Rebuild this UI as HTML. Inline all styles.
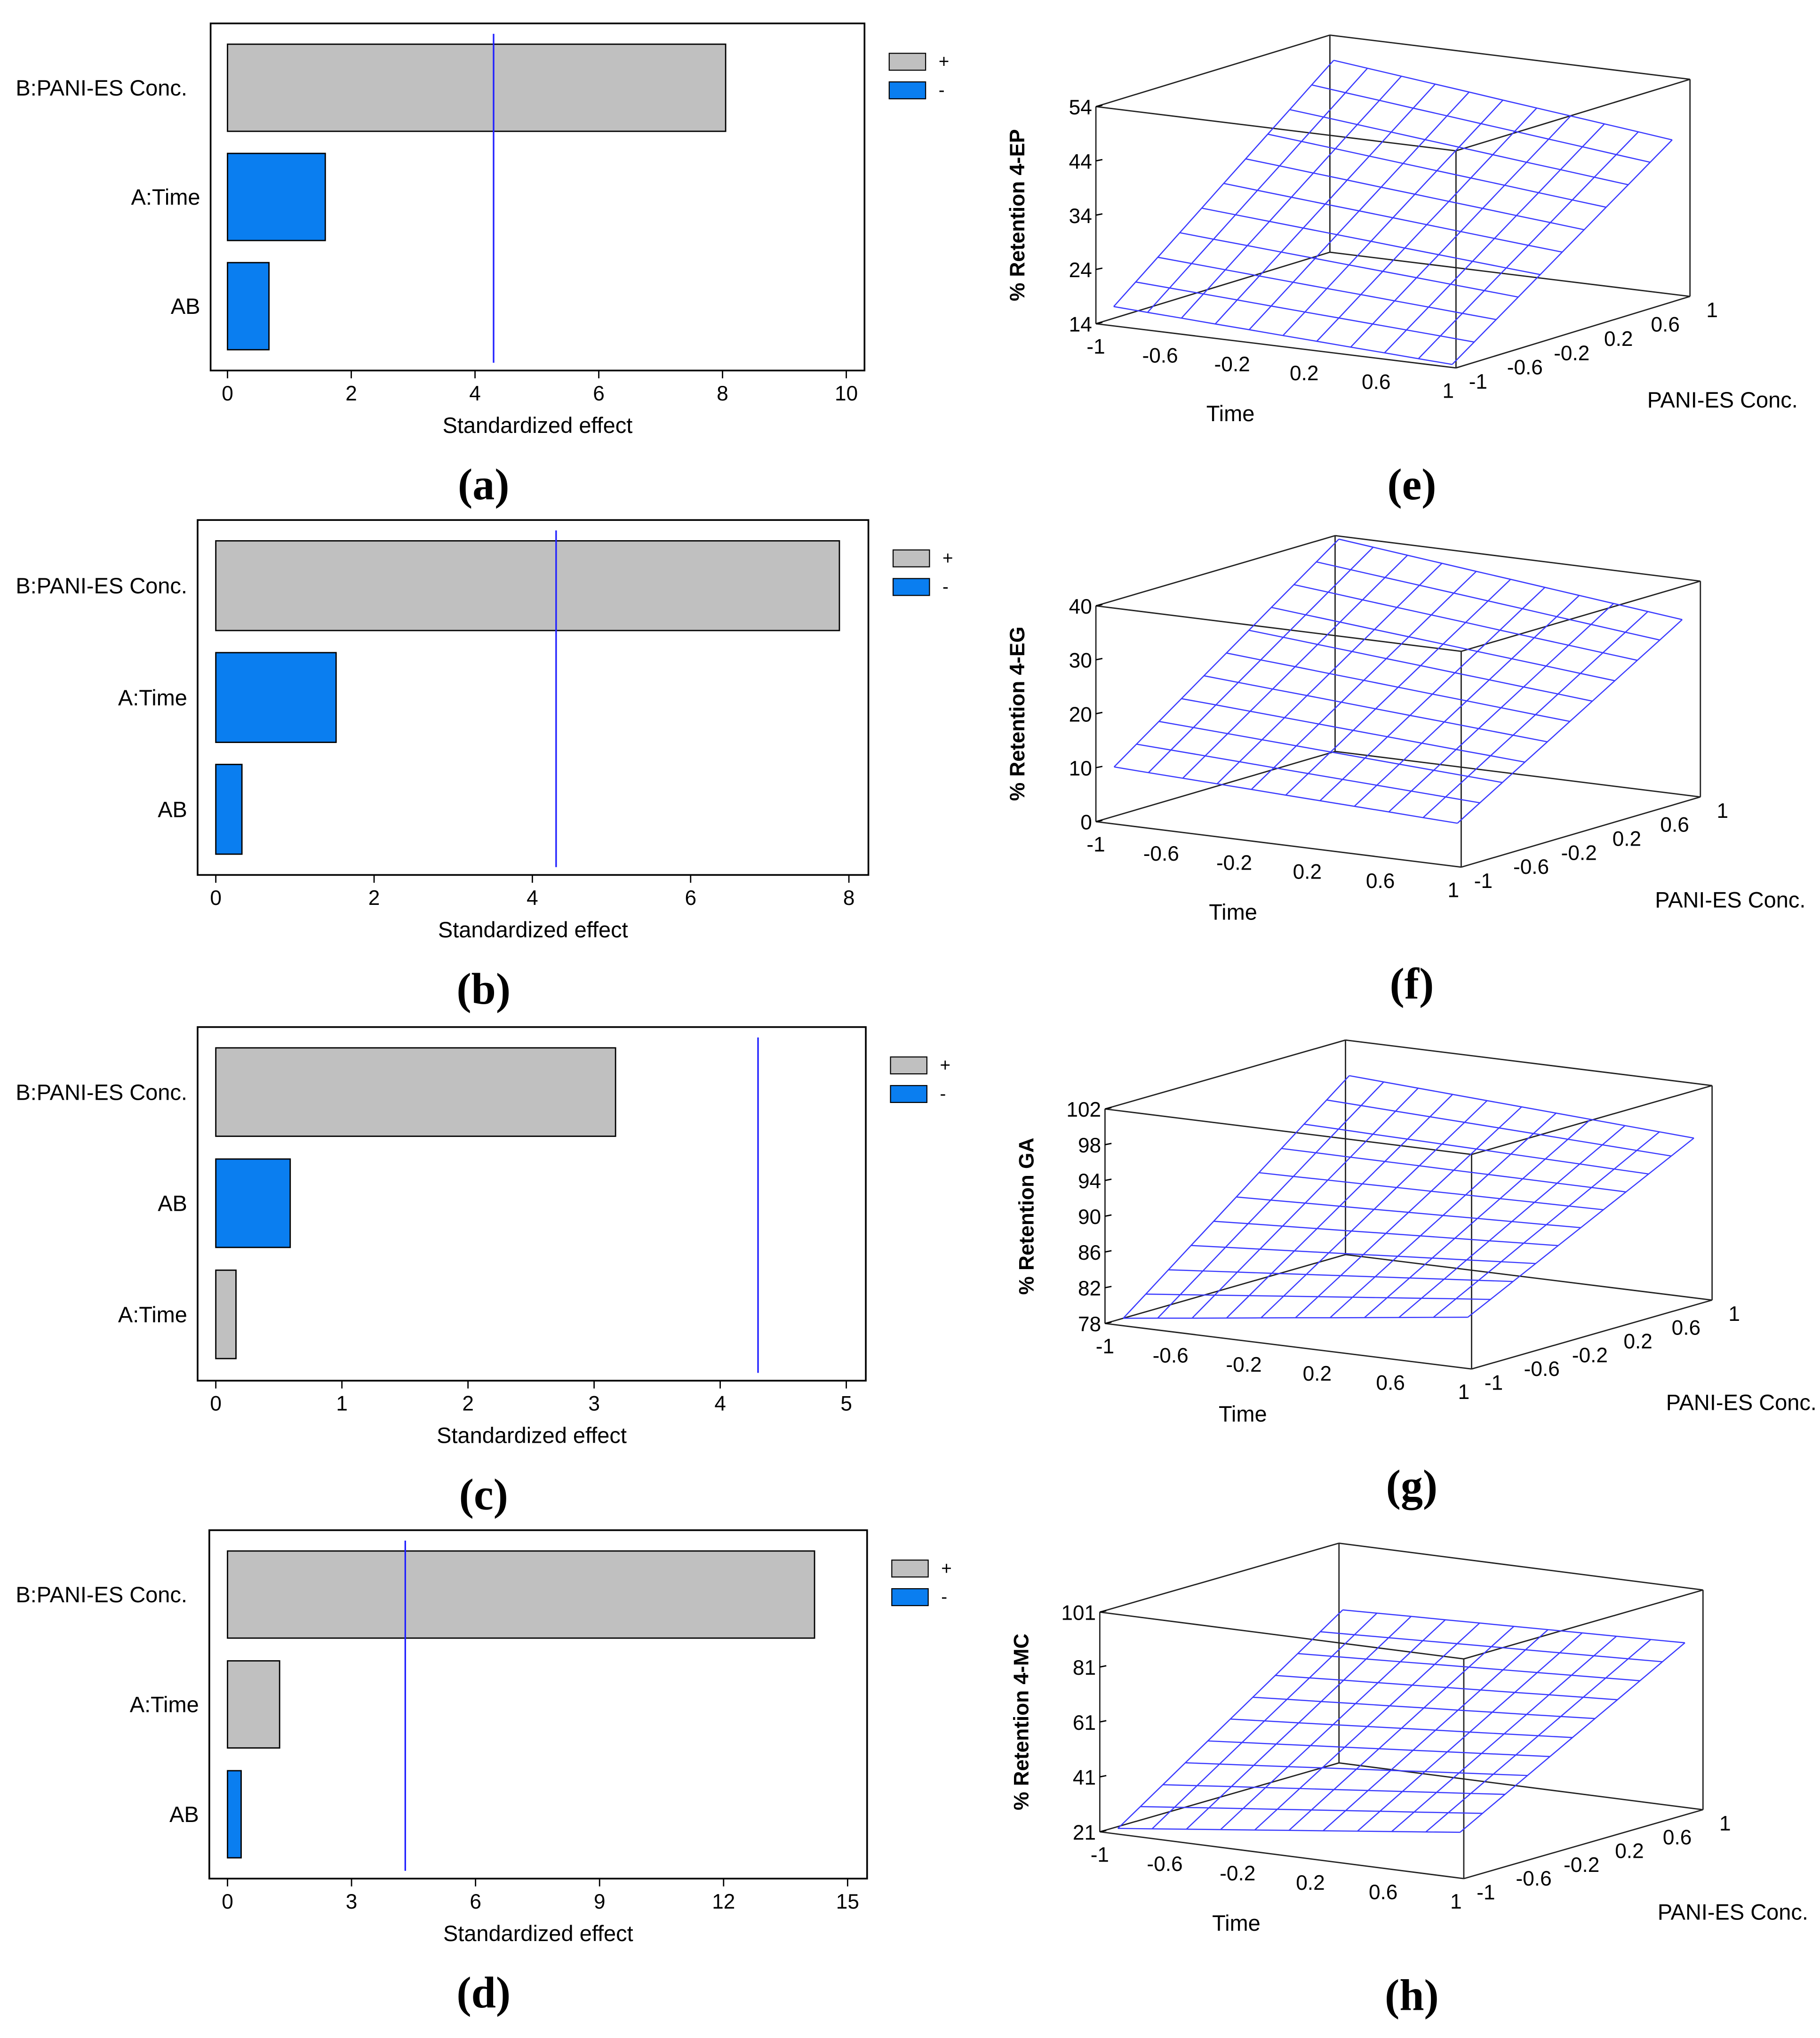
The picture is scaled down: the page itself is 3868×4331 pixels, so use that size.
<!DOCTYPE html>
<html><head><meta charset="utf-8"><style>
html,body{margin:0;padding:0;background:#fff;}
svg{display:block;}
text{font-family:"Liberation Sans",sans-serif;}
text.cap{font-family:"Liberation Serif",serif;font-weight:bold;}
</style></head><body>
<svg id="fig" width="3868" height="4331" viewBox="0 0 1400 1567.6" xmlns="http://www.w3.org/2000/svg"></svg>
<script>
// ---- Pareto chart data ----
const paretoCats_a = ["B:PANI-ES Conc.","A:Time","AB"];
const paretoVals_a = [8.05,1.58,0.67];
const paretoSign_a = ["+","-","-"];
const paretoTicks_a = [0,2,4,6,8,10];
const paretoCats_b = ["B:PANI-ES Conc.","A:Time","AB"];
const paretoVals_b = [7.88,1.52,0.33];
const paretoSign_b = ["+","-","-"];
const paretoTicks_b = [0,2,4,6,8];
const paretoCats_c = ["B:PANI-ES Conc.","AB","A:Time"];
const paretoVals_c = [3.17,0.59,0.16];
const paretoSign_c = ["+","-","+"];
const paretoTicks_c = [0,1,2,3,4,5];
const paretoCats_d = ["B:PANI-ES Conc.","A:Time","AB"];
const paretoVals_d = [14.2,1.26,0.33];
const paretoSign_d = ["+","+","-"];
const paretoTicks_d = [0,3,6,9,12,15];
const critical = [4.3,4.3,4.3,4.3];
// ---- Surface data: z at corners (time,pani) = (-1,-1),(-1,1),(1,-1),(1,1) ----
const surf_e = [17,50,14,43];
const zTicks_e = [14,24,34,44,54];
const surf_f = [10,40,7.5,33];
const zTicks_f = [0,10,20,30,40];
const surf_g = [78.5,98.4,83.4,96.2];
const zTicks_g = [78,82,86,90,94,98,102];
const surf_h = [22,78,36.6,82];
const zTicks_h = [21,41,61,81,101];
const xyTicks = [-1,-0.6,-0.2,0.2,0.6,1];
const SR = 0.94; // surface extent within the box

const S = document.getElementById('fig');
const NS = "http://www.w3.org/2000/svg";
function mk(tag, attrs, parent, txt){
  const e = document.createElementNS(NS, tag);
  for (const k in attrs) e.setAttribute(k, attrs[k]);
  if (txt !== undefined) e.textContent = txt;
  (parent||S).appendChild(e); return e;
}

function pareto(name, box, x0, x1, tmax, cats, vals, signs, ticks, crit, bars, legY, cap, gap){
  const g = mk('g', {});
  
  
  const X = v => x0 + (x1 - x0) * v / tmax;
  const r = mk('rect', {x:box[0], y:box[1], width:box[2]-box[0], height:box[3]-box[1], fill:'#fff', stroke:'#000', 'stroke-width':1.3}, g);
   
  cats.forEach((c,i)=>{
    const y0 = bars[0] + i*bars[2];
    const b = mk('rect', {x:X(0), y:y0, width:X(vals[i])-X(0), height:bars[1], fill: signs[i]=='+'?'#c0c0c0':'#0a7ef0', stroke:'#000', 'stroke-width':1}, g);
    
    
    const t = mk('text', {x:box[0]-(c.length>8?gap:8), y:y0+bars[1]/2+6, 'text-anchor':'end', 'font-size':17}, g, c);
     
  });
  const vl = mk('line', {x1:X(crit), x2:X(crit), y1:box[1]+8, y2:box[3]-6, stroke:'#2020ff', 'stroke-width':1.2}, g);
   
  ticks.forEach(v=>{
    mk('line', {x1:X(v), x2:X(v), y1:box[3], y2:box[3]+6, stroke:'#000', 'stroke-width':1}, g);
    const t = mk('text', {x:X(v), y:box[3]+23, 'text-anchor':'middle', 'font-size':16}, g, String(v));
     
  });
  const xt = mk('text', {x:(box[0]+box[2])/2, y:box[3]+48, 'text-anchor':'middle', 'font-size':17}, g, 'Standardized effect');
   
  const lx = box[2] + 19;
  const l1 = mk('rect', {x:lx, y:legY, width:28, height:13, fill:'#c0c0c0', stroke:'#000', 'stroke-width':0.8}, g);
   
  mk('text', {x:lx+38, y:legY+11, 'font-size':14}, g, '+');
  const l2 = mk('rect', {x:lx, y:legY+22, width:28, height:13, fill:'#0a7ef0', stroke:'#000', 'stroke-width':0.8}, g);
   
  mk('text', {x:lx+38, y:legY+33, 'font-size':14}, g, '-');
  const c = mk('text', {x:372, y:box[3]+99, 'text-anchor':'middle', 'font-size':34, 'class':'cap'}, g, cap);
   
}

pareto('pareto-a', [162,18,665,285], 175, 651, 10, paretoCats_a, paretoVals_a, paretoSign_a, paretoTicks_a, critical[0], [34,67,84], 41, '(a)', 18);
pareto('pareto-b', [152,400,668,673], 166, 653, 8, paretoCats_b, paretoVals_b, paretoSign_b, paretoTicks_b, critical[1], [416,69,86], 423, '(b)', 8);
pareto('pareto-c', [152,790,666,1062], 166, 651, 5, paretoCats_c, paretoVals_c, paretoSign_c, paretoTicks_c, critical[2], [806,68,85.5], 813, '(c)', 8);
pareto('pareto-d', [161,1177,667,1445], 175, 652, 15, paretoCats_d, paretoVals_d, paretoSign_d, paretoTicks_d, critical[3], [1193,67,84.5], 1200, '(d)', 17);

function surface(name, O, tv, pv, zh, zmin, zmax, corners, zt, zlabel, cap){
  const g = mk('g', {});
  
  
  const P = (t,p,z) => { const a=(t+1)/2, b=(p+1)/2, c=(z-zmin)/(zmax-zmin);
    return [O[0]+a*tv[0]+b*pv[0], O[1]+a*tv[1]+b*pv[1]-c*zh]; };
  const Z = (t,p) => { const a=(t/SR+1)/2, b=(p/SR+1)/2;
    return corners[0]*(1-a)*(1-b)+corners[1]*(1-a)*b+corners[2]*a*(1-b)+corners[3]*a*b; };
  const L = (A,B,w,col) => mk('line', {x1:A[0],y1:A[1],x2:B[0],y2:B[1],stroke:col||'#000','stroke-width':w||1}, g);
  const V = [];
  for (const t of [-1,1]) for (const p of [-1,1]) for (const z of [zmin,zmax]) V.push([t,p,z]);
  const edges = [];
  for (let i=0;i<8;i++) for (let j=i+1;j<8;j++){
    let d=0; for(let k=0;k<3;k++) if (V[i][k]!==V[j][k]) d++;
    if (d===1) edges.push([i,j]);
  }
  edges.forEach(([i,j])=>{ const e=L(P(...V[i]),P(...V[j]),1,'#222');
      });
  const N = 10;
  for (let k=0;k<=N;k++){
    const u = SR*(-1 + 2*k/N);
    let d1='', d2='';
    for (let m=0;m<=N;m++){
      const v = SR*(-1 + 2*m/N);
      const a = P(u,v,Z(u,v)), b = P(v,u,Z(v,u));
      d1 += (m?'L':'M')+a[0].toFixed(1)+','+a[1].toFixed(1);
      d2 += (m?'L':'M')+b[0].toFixed(1)+','+b[1].toFixed(1);
    }
    const l1 = mk('path', {d:d1, fill:'none', stroke:'#3a3aff', 'stroke-width':0.9}, g);
     
    const l2 = mk('path', {d:d2, fill:'none', stroke:'#3a3aff', 'stroke-width':0.9}, g);
     
  }
  zt.forEach(v=>{ const a=P(-1,-1,v); L(a,[a[0]+5,a[1]-1],1);
    const t=mk('text',{x:a[0]-3,y:a[1]+6,'text-anchor':'end','font-size':16},g,String(v));
      });
  xyTicks.forEach(v=>{
    const a=P(v,-1,zmin);
    const t=mk('text',{x:a[0]+(v===-1?0:-6),y:a[1]+23,'text-anchor':'middle','font-size':16},g,String(v));
     
    const b=P(1,v,zmin);
    const t2=mk('text',{x:b[0]+17,y:b[1]+16,'text-anchor':'middle','font-size':16},g,String(v));
     
  });
  const tm = P(0,-1,zmin);
  const tt = mk('text',{x:tm[0]-35,y:tm[1]+58,'text-anchor':'middle','font-size':17},g,'Time');
   
  const pm = P(1,0,zmin);
  const pt = mk('text',{x:pm[0]+115,y:pm[1]+58,'text-anchor':'middle','font-size':17},g,'PANI-ES Conc.');
   
  const zm = (P(-1,-1,zmin)[1]+P(-1,-1,zmax)[1])/2;
  const zx = O[0]-55;
  const zl = mk('text',{x:zx,y:zm,'text-anchor':'middle','font-size':16,'font-weight':'bold',transform:`rotate(-90 ${zx} ${zm})`},g,zlabel);
   
  const c = mk('text',{x:1086,y:O[1]+135+(tv[1]-34),'text-anchor':'middle','font-size':34,'class':'cap'},g,cap);
   
}

surface('surface-e', [843,249], [277,34], [180,-55], 167, 14, 54, surf_e, zTicks_e, '% Retention 4-EP', '(e)');
surface('surface-f', [843,632], [281,35], [184,-54], 166, 0, 40, surf_f, zTicks_f, '% Retention 4-EG', '(f)');
surface('surface-g', [850,1018], [282,35], [185,-53], 165, 78, 102, surf_g, zTicks_g, '% Retention GA', '(g)');
surface('surface-h', [846,1409], [280,36], [184,-53], 169, 21, 101, surf_h, zTicks_h, '% Retention 4-MC', '(h)');
</script>
</body></html>
